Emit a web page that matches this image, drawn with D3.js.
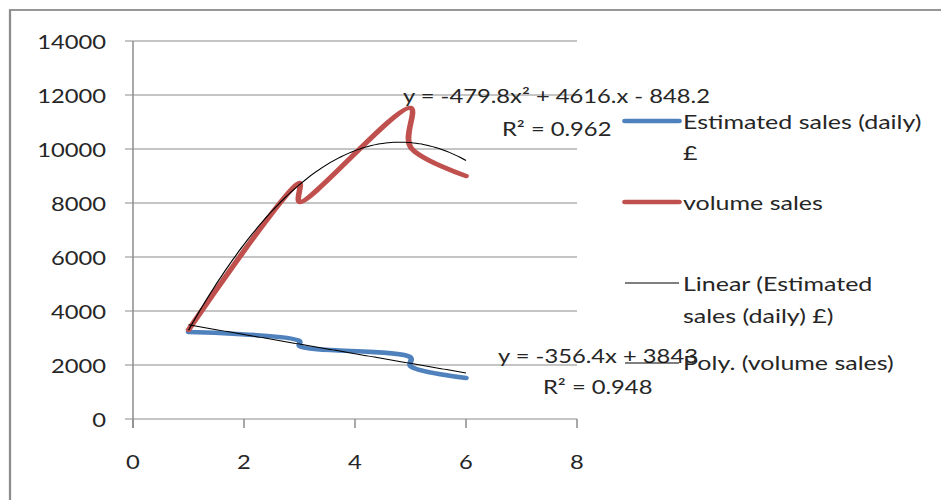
<!DOCTYPE html>
<html lang="en">
<head>
<meta charset="UTF-8">
<title>Sales chart</title>
<style>
	body { margin:0; background:#fff; }
	#CHART { display:block; width:941px; height:500px; }
	#CHART text { font-family: Lato, "Open Sans", sans-serif; font-size:19px; fill:#262626; }
	#CHART .legend text { font-size:20px; }
</style>
</head>
<body>
<svg id="CHART"></svg>

<script src="https://cdnjs.cloudflare.com/ajax/libs/d3/7.8.5/d3.min.js"></script>
<script>
	// values
	const X_VALUES = [1, 3, 3, 5, 5, 6];
	const ESTIMATED_SALES = [3220, 2890, 2700, 2280, 1960, 1520];
	const VOLUME_SALES = [3300, 8740, 8040, 11520, 10070, 9000];

	// trendline coefficients (c0 + c1*x + c2*x^2), as printed on the chart
	const LINEAR_COEF = [3843, -356.4];
	const POLY_COEF = [-848.2, 4616, -479.8];

	const X_TICKS = [0, 2, 4, 6, 8];
	const Y_TICKS = [0, 2000, 4000, 6000, 8000, 10000, 12000, 14000];

	const SERIES_NAMES = ["Estimated sales (daily) £", "volume sales"];
	const LEGEND_LINES = [["Estimated sales (daily)", "£"], ["volume sales"], ["Linear (Estimated", "sales (daily) £)"], ["Poly. (volume sales)"]];
	const POLY_LABEL = ["y = -479.8x² + 4616.x - 848.2", "R² = 0.962"];
	const LINEAR_LABEL = ["y = -356.4x + 3843", "R² = 0.948"];

	var S = 1.25; // the picture is stretched sideways, so is the svg
	var W = 941 / S, H = 500;
	function px(v){ return v / S; }

	var svg = d3.select("#CHART")
				.attr("viewBox", [0, 0, W, H])
				.attr("preserveAspectRatio", "none");

	var x = d3.scaleLinear().domain([0, 8]).range([px(133), px(577)]);
	var y = d3.scaleLinear().domain([0, 14000]).range([419, 41]);

	var gridColor = "#8c8c8c";

	// chart border (runs off the right and bottom)
	svg.append("rect")
		.attr("x", px(10)).attr("y", 10)
		.attr("width", W).attr("height", H)
		.attr("fill", "none")
		.attr("stroke", gridColor)
		.attr("stroke-width", 1.8);

	// horizontal gridlines with their small left ticks
	svg.append("g")
		.selectAll("line")
		.data(Y_TICKS)
		.join("line")
			.attr("x1", px(125)).attr("x2", x(8))
			.attr("y1", function(d){ return y(d); })
			.attr("y2", function(d){ return y(d); })
			.attr("stroke", gridColor)
			.attr("stroke-width", 1.2);

	// y axis line
	svg.append("line")
		.attr("x1", x(0)).attr("x2", x(0))
		.attr("y1", y(14000)).attr("y2", 428)
		.attr("stroke", gridColor)
		.attr("stroke-width", 1.2);

	// x ticks
	svg.append("g")
		.selectAll("line")
		.data(X_TICKS)
		.join("line")
			.attr("x1", function(d){ return x(d); })
			.attr("x2", function(d){ return x(d); })
			.attr("y1", y(0)).attr("y2", 428)
			.attr("stroke", gridColor)
			.attr("stroke-width", 1.2);

	svg.append("g")
		.selectAll("text")
		.data(Y_TICKS)
		.join("text")
			.attr("x", px(106))
			.attr("y", function(d){ return y(d) + 1; })
			.attr("text-anchor", "end")
			.attr("dominant-baseline", "central")
			.text(function(d){ return d; });

	svg.append("g")
		.selectAll("text")
		.data(X_TICKS)
		.join("text")
			.attr("x", function(d){ return x(d); })
			.attr("y", 462)
			.attr("text-anchor", "middle")
			.attr("dominant-baseline", "central")
			.text(function(d){ return d; });

	// series, smoothed like the spreadsheet does
	var smooth = d3.line()
					.x(function(d){ return x(d[0]); })
					.y(function(d){ return y(d[1]); })
					.curve(d3.curveCatmullRom.alpha(0.5));

	var series = [
		{ name: SERIES_NAMES[0], values: ESTIMATED_SALES, color: "#4F81BD" },
		{ name: SERIES_NAMES[1], values: VOLUME_SALES, color: "#C0504D" }
	];

	svg.append("g")
		.selectAll("path")
		.data(series)
		.join("path")
			.attr("d", function(s){ return smooth(X_VALUES.map(function(xv, i){ return [xv, s.values[i]]; })); })
			.attr("fill", "none")
			.attr("stroke", function(s){ return s.color; })
			.attr("stroke-width", 4.5)
			.attr("stroke-linecap", "round")
			.attr("stroke-linejoin", "round");

	// trendlines
	function evalPoly(coef, xv){
		return coef.reduce(function(acc, c, i){ return acc + c * Math.pow(xv, i); }, 0);
	}
	var xMin = d3.min(X_VALUES), xMax = d3.max(X_VALUES);
	var samples = d3.range(xMin, xMax + 0.001, 0.05);
	var straight = d3.line()
					.x(function(d){ return x(d[0]); })
					.y(function(d){ return y(d[1]); });

	[LINEAR_COEF, POLY_COEF].forEach(function(coef){
		svg.append("path")
			.attr("d", straight(samples.map(function(xv){ return [xv, evalPoly(coef, xv)]; })))
			.attr("fill", "none")
			.attr("stroke", "#000")
			.attr("stroke-width", 1);
	});

	// trendline labels
	function label(lines, spots){
		lines.forEach(function(t, i){
			svg.append("text")
				.attr("x", px(spots[i][0]))
				.attr("y", spots[i][1])
				.attr("dominant-baseline", "central")
				.text(t);
		});
	}
	label(POLY_LABEL, [[403, 96], [502, 129]]);
	label(LINEAR_LABEL, [[498, 356], [543, 387]]);

	// legend
	var legendRows = [
		{ lines: LEGEND_LINES[0], color: "#4F81BD", width: 4.5, y: 121 },
		{ lines: LEGEND_LINES[1], color: "#C0504D", width: 4.5, y: 202 },
		{ lines: LEGEND_LINES[2], color: "#000", width: 1, y: 283 },
		{ lines: LEGEND_LINES[3], color: "#000", width: 1, y: 363 }
	];
	var legend = svg.append("g").attr("class", "legend");
	legendRows.forEach(function(r){
		legend.append("line")
			.attr("x1", px(625)).attr("x2", px(679))
			.attr("y1", r.y).attr("y2", r.y)
			.attr("stroke", r.color)
			.attr("stroke-width", r.width)
			.attr("stroke-linecap", r.width > 2 ? "round" : "butt");
		r.lines.forEach(function(t, i){
			legend.append("text")
				.attr("x", px(683))
				.attr("y", r.y + i * 32)
				.attr("dominant-baseline", "central")
				.text(t);
		});
	});
</script>
</body>
</html>
